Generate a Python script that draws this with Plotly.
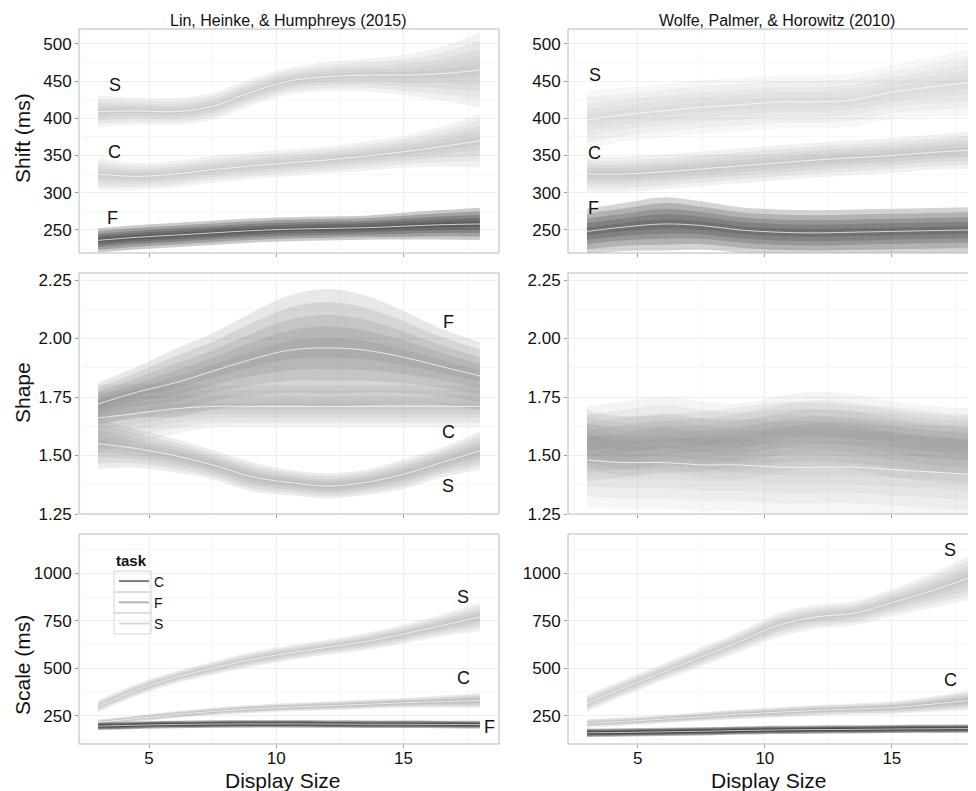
import plotly.graph_objects as go

# ---------------- data ----------------
display_size = [3, 4.5, 6, 7.5, 9, 10.5, 12, 13.5, 15, 16.5, 18]
task_names = ["C", "F", "S"]
study_titles = ["Lin, Heinke, & Humphreys (2015)", "Wolfe, Palmer, & Horowitz (2010)"]
param_titles = ["Shift (ms)", "Shape", "Scale (ms)"]
x_title = "Display Size"
x_tick_vals = [5, 10, 15]
shift_ticks = [250, 300, 350, 400, 450, 500]
shape_ticks = [1.25, 1.50, 1.75, 2.00, 2.25]
scale_ticks = [250, 500, 750, 1000]

# Shift - Lin et al.
lin_shift_S_mid = [409, 410, 409, 416, 435, 450, 456, 458, 458, 460, 465]
lin_shift_S_half = [12, 10, 10, 10, 10, 10, 11, 12, 15, 20, 28]
lin_shift_C_mid = [325, 322, 325, 331, 336, 340, 344, 349, 355, 362, 370]
lin_shift_C_half = [12, 10, 10, 10, 10, 10, 10, 11, 12, 15, 20]
lin_shift_F_mid = [236, 240, 243, 246, 249, 251, 252, 253, 255, 257, 258]
lin_shift_F_half = [9, 9, 9, 9, 9, 9, 9, 9, 10, 11, 12]

# Shift - Wolfe et al.
wol_shift_S_mid = [398, 405, 410, 415, 418, 422, 422, 425, 435, 442, 448]
wol_shift_S_half = [22, 20, 20, 20, 20, 20, 20, 20, 20, 22, 25]
wol_shift_C_mid = [325, 325, 328, 332, 336, 340, 344, 347, 350, 354, 357]
wol_shift_C_half = [13, 13, 13, 13, 13, 13, 13, 13, 13, 13, 14]
wol_shift_F_mid = [248, 254, 258, 256, 250, 247, 246, 247, 248, 249, 250]
wol_shift_F_half = [17, 18, 20, 18, 17, 17, 17, 17, 17, 17, 17]

# Shape - Lin et al.
lin_shape_F_mid = [1.72, 1.77, 1.81, 1.86, 1.91, 1.95, 1.96, 1.95, 1.92, 1.88, 1.84]
lin_shape_F_half = [0.05, 0.06, 0.08, 0.09, 0.11, 0.13, 0.14, 0.13, 0.11, 0.09, 0.08]
lin_shape_C_mid = [1.66, 1.68, 1.70, 1.71, 1.71, 1.71, 1.71, 1.71, 1.71, 1.71, 1.71]
lin_shape_C_half = [0.08, 0.07, 0.06, 0.05, 0.05, 0.05, 0.05, 0.05, 0.05, 0.05, 0.05]
lin_shape_S_mid = [1.55, 1.53, 1.50, 1.46, 1.41, 1.385, 1.37, 1.385, 1.42, 1.47, 1.52]
lin_shape_S_half = [0.06, 0.045, 0.04, 0.035, 0.035, 0.03, 0.03, 0.03, 0.035, 0.035, 0.045]

# Shape - Wolfe et al.
wol_shape_F_mid = [1.57, 1.54, 1.55, 1.56, 1.58, 1.60, 1.60, 1.59, 1.58, 1.56, 1.55]
wol_shape_F_half = [0.07, 0.07, 0.07, 0.07, 0.07, 0.07, 0.07, 0.07, 0.07, 0.07, 0.07]
wol_shape_C_mid = [1.55, 1.57, 1.59, 1.57, 1.56, 1.59, 1.61, 1.60, 1.57, 1.55, 1.54]
wol_shape_C_half = [0.09, 0.09, 0.09, 0.09, 0.09, 0.09, 0.09, 0.09, 0.09, 0.09, 0.09]
wol_shape_S_mid = [1.48, 1.47, 1.47, 1.46, 1.46, 1.45, 1.45, 1.45, 1.44, 1.43, 1.42]
wol_shape_S_half = [0.11, 0.11, 0.11, 0.11, 0.11, 0.11, 0.11, 0.11, 0.11, 0.11, 0.11]

# Scale - Lin et al.
lin_scale_S_mid = [300, 385, 450, 500, 545, 580, 610, 640, 680, 725, 770]
lin_scale_S_half = [18, 18, 18, 20, 22, 22, 22, 25, 28, 32, 42]
lin_scale_C_mid = [215, 235, 255, 272, 285, 295, 302, 310, 318, 324, 330]
lin_scale_C_half = [9, 9, 10, 11, 12, 12, 13, 13, 14, 17, 22]
lin_scale_F_mid = [195, 200, 204, 206, 207, 207, 206, 205, 205, 204, 203]
lin_scale_F_half = [11, 11, 11, 11, 11, 11, 11, 11, 11, 11, 11]

# Scale - Wolfe et al.
wol_scale_S_mid = [315, 400, 480, 560, 640, 725, 770, 790, 845, 905, 975]
wol_scale_S_half = [25, 25, 25, 28, 30, 35, 35, 35, 40, 50, 65]
wol_scale_C_mid = [210, 220, 232, 245, 258, 268, 278, 285, 292, 310, 330]
wol_scale_C_half = [12, 12, 12, 13, 14, 15, 16, 16, 18, 22, 28]
wol_scale_F_mid = [160, 162, 165, 168, 172, 175, 177, 178, 180, 181, 182]
wol_scale_F_half = [12, 12, 12, 12, 12, 12, 12, 12, 12, 12, 12]

# ---------------- panel definitions ----------------
panels = [
    {"series": {"S": (lin_shift_S_mid, lin_shift_S_half), "C": (lin_shift_C_mid, lin_shift_C_half),
                "F": (lin_shift_F_mid, lin_shift_F_half)},
     "labels": [("S", 3.65, 445), ("C", 3.65, 355), ("F", 3.55, 266)]},
    {"series": {"S": (wol_shift_S_mid, wol_shift_S_half), "C": (wol_shift_C_mid, wol_shift_C_half),
                "F": (wol_shift_F_mid, wol_shift_F_half)},
     "labels": [("S", 3.3, 458), ("C", 3.3, 353), ("F", 3.25, 280)]},
    {"series": {"S": (lin_shape_S_mid, lin_shape_S_half), "C": (lin_shape_C_mid, lin_shape_C_half),
                "F": (lin_shape_F_mid, lin_shape_F_half)},
     "labels": [("F", 16.75, 2.07), ("C", 16.75, 1.60), ("S", 16.75, 1.37)]},
    {"series": {"S": (wol_shape_S_mid, wol_shape_S_half), "C": (wol_shape_C_mid, wol_shape_C_half),
                "F": (wol_shape_F_mid, wol_shape_F_half)},
     "labels": []},
    {"series": {"S": (lin_scale_S_mid, lin_scale_S_half), "C": (lin_scale_C_mid, lin_scale_C_half),
                "F": (lin_scale_F_mid, lin_scale_F_half)},
     "labels": [("S", 17.35, 875), ("C", 17.35, 449), ("F", 18.1, 192)]},
    {"series": {"S": (wol_scale_S_mid, wol_scale_S_half), "C": (wol_scale_C_mid, wol_scale_C_half),
                "F": (wol_scale_F_mid, wol_scale_F_half)},
     "labels": [("S", 17.3, 1123), ("C", 17.3, 438), ("F", 17.97, 192)]},
]

# (grey level, alpha per layer) for each panel / task
band_style = [
    {"S": (170, 0.15), "C": (170, 0.15), "F": (45, 0.25)},
    {"S": (180, 0.10), "C": (165, 0.155), "F": (50, 0.21)},
    {"S": (165, 0.21), "C": (150, 0.12), "F": (120, 0.17)},
    {"S": (135, 0.08), "C": (130, 0.09), "F": (120, 0.09)},
    {"S": (165, 0.17), "C": (150, 0.175), "F": (30, 0.32)},
    {"S": (170, 0.16), "C": (150, 0.17), "F": (30, 0.33)},
]
white_center = [("S", "C", "F"), ("S", "C", "F"), ("S", "C", "F"), ("S",), ("S", "C", "F"), ("S", "C", "F")]
band_scales = (1.8, 1.4, 1.0, 0.65, 0.3)
legend_colors = {"C": "#7a7a7a", "F": "#b4b4b4", "S": "#d8d8d8"}

# page body has an 8px margin: work in reference pixels and convert
OFF = 8
W, H = 976 - OFF, 791 - OFF


def fx(p):
    return (p - OFF) / W


def fy(p):
    return 1 - (p - OFF) / H


left_dom = [fx(79), fx(499)]
right_dom = [fx(568), 1.0]
row_doms = [[fy(253), fy(29)], [fy(514), fy(273)], [fy(744), fy(534)]]
y_ranges = [[219, 520], [1.25, 2.28], [101, 1207]]
y_ticks = [shift_ticks, shape_ticks, scale_ticks]
y_minor = [(275, 50), (1.375, 0.25), (375, 250)]

FONT = "Liberation Sans, Arial, Helvetica, sans-serif"


def sfx(n):
    return "" if n == 1 else str(n)


fig = go.Figure()

for i, p in enumerate(panels):
    n = i + 1
    xa, ya = "x" + sfx(n), "y" + sfx(n)
    for task in ["S", "C", "F"]:
        mid, half = p["series"][task]
        grey, al = band_style[i][task]
        for sc in band_scales:
            lo = [m - h * sc for m, h in zip(mid, half)]
            hi = [m + h * sc for m, h in zip(mid, half)]
            fig.add_trace(go.Scatter(x=display_size, y=lo, mode="lines",
                                     line=dict(width=0, shape="spline"),
                                     xaxis=xa, yaxis=ya, showlegend=False, hoverinfo="skip"))
            fig.add_trace(go.Scatter(x=display_size, y=hi, mode="lines",
                                     line=dict(width=0, shape="spline"), fill="tonexty",
                                     fillcolor=f"rgba({grey},{grey},{grey},{al})",
                                     xaxis=xa, yaxis=ya, showlegend=False, hoverinfo="skip"))
    for task in white_center[i]:
        mid, half = p["series"][task]
        fig.add_trace(go.Scatter(x=display_size, y=mid, mode="lines",
                                 line=dict(width=1, shape="spline", color="rgba(255,255,255,0.7)"),
                                 xaxis=xa, yaxis=ya, showlegend=False, hoverinfo="skip"))

# legend entries (task key)
for task in task_names:
    fig.add_trace(go.Scatter(x=[None], y=[None], mode="lines", name=task,
                             line=dict(color=legend_colors[task], width=2),
                             xaxis="x5", yaxis="y5", showlegend=True))

layout = dict(
    width=W, height=H,
    margin=dict(l=0, r=0, t=0, b=0),
    paper_bgcolor="white", plot_bgcolor="white",
    font=dict(family=FONT, color="#111111"),
    showlegend=True,
    legend=dict(x=fx(114), y=fy(546), xanchor="left", yanchor="top", traceorder="normal",
                title=dict(text="<b>task</b>", font=dict(size=15, family=FONT)),
                font=dict(size=14, family=FONT), bgcolor="rgba(255,255,255,0)",
                tracegroupgap=0, itemwidth=30),
)

shapes = []
annotations = []
for i in range(6):
    n = i + 1
    row, col = divmod(i, 2)
    s = sfx(n)
    xr = [2.25, 18.75] if col == 0 else [2.25, 2.25 + (976 - 568) / 25.4]
    layout["xaxis" + s] = dict(
        domain=left_dom if col == 0 else right_dom, range=xr, anchor="y" + s,
        tickmode="array", tickvals=x_tick_vals, showticklabels=(row == 2),
        tickfont=dict(size=17), ticks="outside", ticklen=3, tickcolor="#999999",
        ticklabelstandoff=-4,
        showgrid=True, gridcolor="#efefef", gridwidth=1, zeroline=False, showline=False,
        minor=dict(tick0=2.5, dtick=5, showgrid=True, gridcolor="#f7f7f7"),
        automargin=False,
    )
    layout["yaxis" + s] = dict(
        domain=row_doms[row], range=y_ranges[row], anchor="x" + s,
        tickmode="array", tickvals=y_ticks[row], tickformat=".2f" if row == 1 else "d",
        tickfont=dict(size=17), ticks="outside", ticklen=3, tickcolor="#999999",
        showgrid=True, gridcolor="#efefef", gridwidth=1, zeroline=False, showline=False,
        minor=dict(tick0=y_minor[row][0], dtick=y_minor[row][1], showgrid=True, gridcolor="#f7f7f7"),
        automargin=False,
    )
    shapes.append(dict(type="rect", xref="x" + s + " domain", yref="y" + s + " domain",
                       x0=0, x1=1 if col == 0 else 1.1, y0=0, y1=1,
                       line=dict(color="#b8b8b8", width=1), layer="above"))
    for (txt, lx, ly) in panels[i]["labels"]:
        annotations.append(dict(text=txt, x=lx, y=ly, xref="x" + s, yref="y" + s,
                                showarrow=False, xanchor="left" if txt == "F" and row == 2 else "center",
                                font=dict(size=18, color="#111111")))

# key boxes of the legend
for top, bot in [(571, 592), (592, 613), (613, 634)]:
    shapes.append(dict(type="rect", xref="paper", yref="paper",
                       x0=fx(114), x1=fx(151), y0=fy(bot), y1=fy(top),
                       line=dict(color="#d4d4d4", width=1), layer="above"))

# column titles
for cx, t in zip([288, 777], study_titles):
    annotations.append(dict(text=t, x=fx(cx), y=fy(20), xref="paper", yref="paper",
                            showarrow=False, xanchor="center", yanchor="middle",
                            font=dict(size=16, color="#111111")))
# x-axis titles
for cx in [283, 769]:
    annotations.append(dict(text=x_title, x=fx(cx), y=fy(780), xref="paper", yref="paper",
                            showarrow=False, xanchor="center", yanchor="middle",
                            font=dict(size=21, color="#111111")))
# y-axis titles
for cy, t in zip([138, 393, 665], param_titles):
    annotations.append(dict(text=t, x=fx(22), y=fy(cy), xref="paper", yref="paper",
                            showarrow=False, xanchor="center", yanchor="middle", textangle=-90,
                            font=dict(size=21, color="#111111")))

layout["shapes"] = shapes
layout["annotations"] = annotations
fig.update_layout(**layout)

fig.write_html("out.html")
